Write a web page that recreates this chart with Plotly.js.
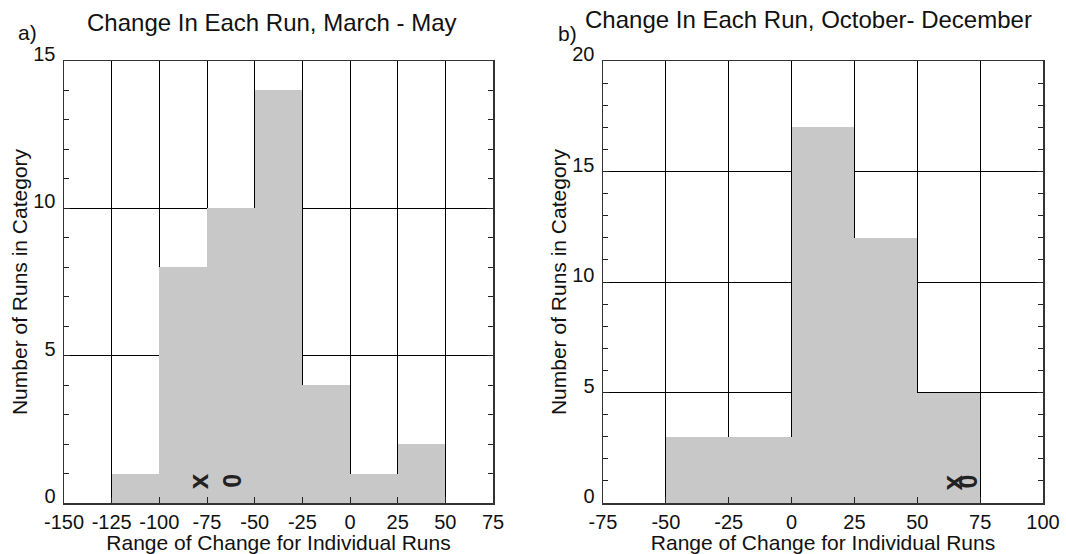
<!DOCTYPE html>
<html>
<head>
<meta charset="utf-8">
<script src="https://cdn.plot.ly/plotly-3.0.1.min.js"></script>
<style>html,body{margin:0;padding:0;background:#fff;}#chart{width:1066px;height:554px;}</style>
</head>
<body>
<div id="chart"></div>
<script>
// ---- data ----
const springBinStarts = [-125, -100, -75, -50, -25, 0, 25];
const springCounts    = [1, 8, 10, 14, 4, 1, 2];
const autumnBinStarts = [-50, -25, 0, 25, 50];
const autumnCounts    = [3, 3, 17, 12, 5];
const binWidth = 25;

const springTickVals  = [-150, -125, -100, -75, -50, -25, 0, 25, 50, 75];
const springTickText  = ['-150', '-125', '-100', '-75', '-50', '-25', '0', '25', '50', '75'];
const autumnTickVals  = [-75, -50, -25, 0, 25, 50, 75, 100];
const autumnTickText  = ['-75', '-50', '-25', '0', '25', '50', '75', '100'];
const springYTicks = [0, 5, 10, 15];
const autumnYTicks = [0, 5, 10, 15, 20];

// marker glyphs: [x, y]
const springMarkX = [-79, 0.75];
const springMarkO = [-62, 0.75];
const autumnMarkX = [64, 0.95];
const autumnMarkO = [70, 0.95];

const titleA = 'Change In Each Run, March - May';
const titleB = 'Change In Each Run, October- December';
const xTitle = 'Range of Change for Individual Runs';
const yTitle = 'Number of Runs in Category';

// ---- build ----
const FONT = 'Liberation Sans, Arial, sans-serif';
const BAR = '#c8c8c8';
const centers = (starts) => starts.map(s => s + binWidth / 2);

const traces = [
  {type: 'bar', x: centers(springBinStarts), y: springCounts, width: binWidth,
   marker: {color: BAR, line: {width: 0}}, xaxis: 'x', yaxis: 'y', hoverinfo: 'skip'},
  {type: 'bar', x: centers(autumnBinStarts), y: autumnCounts, width: binWidth,
   marker: {color: BAR, line: {width: 0}}, xaxis: 'x2', yaxis: 'y2', hoverinfo: 'skip'}
];

function xAxis(range, vals, text, domain, anchor) {
  return {
    domain: domain, anchor: anchor, range: range, tickmode: 'array',
    tickvals: vals, ticktext: text, ticks: 'inside', ticklen: 6, tickwidth: 1, tickcolor: '#222',
    showgrid: true, gridcolor: '#000', gridwidth: 1,
    showline: true, linecolor: '#333', linewidth: 1.5, mirror: true,
    zeroline: false, fixedrange: true,
    tickfont: {family: FONT, size: 20, color: '#111'},
    title: {text: xTitle, font: {family: FONT, size: 21, color: '#111'}, standoff: 0}
  };
}
function yAxis(range, vals, domain, anchor) {
  return {
    domain: domain, anchor: anchor, range: range, tickmode: 'array',
    tickvals: vals, ticks: 'inside', ticklen: 6, tickwidth: 1, tickcolor: '#222',
    minor: {dtick: 1, ticks: 'inside', ticklen: 5, tickcolor: '#222', showgrid: false},
    showgrid: true, gridcolor: '#000', gridwidth: 1,
    showline: true, linecolor: '#333', linewidth: 1.5, mirror: 'ticks',
    zeroline: false, fixedrange: true, ticklabelshift: -7, ticklabelstandoff: 3,
    tickfont: {family: FONT, size: 20, color: '#111'},
    title: {text: yTitle, font: {family: FONT, size: 21, color: '#111'}, standoff: 0}
  };
}

const yDom = [51 / 554, 493 / 554];
const layout = {
  width: 1066, height: 554,
  margin: {l: 0, r: 0, t: 0, b: 0},
  paper_bgcolor: '#fff', plot_bgcolor: '#fff',
  showlegend: false, bargap: 0,
  xaxis: xAxis([-150, 75], springTickVals, springTickText, [64 / 1066, 493 / 1066], 'y'),
  yaxis: yAxis([0, 15], springYTicks, yDom, 'x'),
  xaxis2: xAxis([-75, 100], autumnTickVals, autumnTickText, [603 / 1066, 1043 / 1066], 'y2'),
  yaxis2: yAxis([0, 20], autumnYTicks, yDom, 'x2'),
  annotations: [
    {text: titleA, xref: 'paper', yref: 'paper', x: 272 / 1066, y: 1 - 22 / 554,
     xanchor: 'center', yanchor: 'middle', showarrow: false, font: {family: FONT, size: 24, color: '#111'}},
    {text: titleB, xref: 'paper', yref: 'paper', x: 808 / 1066, y: 1 - 19 / 554,
     xanchor: 'center', yanchor: 'middle', showarrow: false, font: {family: FONT, size: 24, color: '#111'}},
    {text: 'a)', xref: 'paper', yref: 'paper', x: 27 / 1066, y: 1 - 33 / 554,
     xanchor: 'center', yanchor: 'middle', showarrow: false, font: {family: FONT, size: 21, color: '#111'}},
    {text: 'b)', xref: 'paper', yref: 'paper', x: 567 / 1066, y: 1 - 34 / 554,
     xanchor: 'center', yanchor: 'middle', showarrow: false, font: {family: FONT, size: 21, color: '#111'}},
    {text: '<b>x</b>', xref: 'x', yref: 'y', x: springMarkX[0], y: springMarkX[1], textangle: -90,
     xanchor: 'center', yanchor: 'middle', showarrow: false, font: {family: FONT, size: 28, color: '#222'}},
    {text: '<b>0</b>', xref: 'x', yref: 'y', x: springMarkO[0], y: springMarkO[1], textangle: -90,
     xanchor: 'center', yanchor: 'middle', showarrow: false, font: {family: FONT, size: 25, color: '#222'}},
    {text: '<b>x</b>', xref: 'x2', yref: 'y2', x: autumnMarkX[0], y: autumnMarkX[1], textangle: -90,
     xanchor: 'center', yanchor: 'middle', showarrow: false, font: {family: FONT, size: 28, color: '#222'}},
    {text: '<b>0</b>', xref: 'x2', yref: 'y2', x: autumnMarkO[0], y: autumnMarkO[1], textangle: -90,
     xanchor: 'center', yanchor: 'middle', showarrow: false, font: {family: FONT, size: 25, color: '#222'}}
  ]
};

Plotly.newPlot('chart', traces, layout, {displayModeBar: false, staticPlot: true});
</script>
</body>
</html>
